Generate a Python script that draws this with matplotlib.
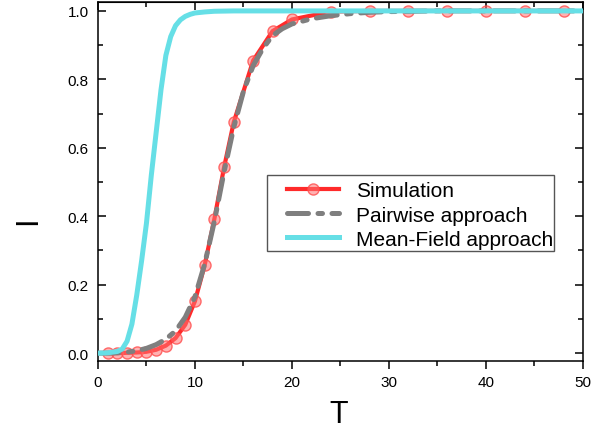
#!/usr/bin/env python
# I vs T: simulation, pairwise and mean-field curves
import matplotlib
matplotlib.use('Agg')
import matplotlib.pyplot as plt
from matplotlib.patches import Rectangle
from matplotlib.ticker import MultipleLocator

plt.rcParams['font.family'] = ['Liberation Sans', 'DejaVu Sans']

# simulation (markers)
t_sim = [1, 2, 3, 4, 5, 6, 7, 8, 9, 10, 11, 12, 13, 14, 16, 18, 20, 24, 28, 32, 36, 40, 44, 48]
i_sim = [0.0, 0.0, 0.001, 0.002, 0.004, 0.010, 0.022, 0.044, 0.083, 0.152, 0.257, 0.392,
         0.543, 0.675, 0.855, 0.941, 0.975, 0.998, 1.0, 1.0, 1.0, 1.0, 1.0, 1.0]

# pairwise approach
t_pair = [0, 1, 2, 3, 4, 5, 6, 7, 8, 9, 10, 11, 12, 13, 14, 15, 16, 17, 18, 19, 20,
          22, 24, 26, 28, 30, 35, 40, 45, 50]
i_pair = [0.0, 0.0, 0.001, 0.003, 0.007, 0.014, 0.025, 0.041, 0.065, 0.105, 0.165, 0.26,
          0.385, 0.53, 0.66, 0.765, 0.84, 0.89, 0.928, 0.948, 0.962, 0.977, 0.986, 0.992,
          0.996, 0.998, 1.0, 1.0, 1.0, 1.0]

# mean-field approach
t_mf = [0, 1, 2, 2.5, 3, 3.5, 4, 4.5, 5, 5.5, 6, 6.5, 7, 7.5, 8, 8.5, 9, 9.5, 10, 11, 12, 14,
        20, 30, 40, 50]
i_mf = [0.0, 0.001, 0.005, 0.012, 0.035, 0.085, 0.17, 0.27, 0.38, 0.52, 0.645, 0.77, 0.87,
        0.925, 0.957, 0.974, 0.984, 0.99, 0.994, 0.997, 0.999, 1.0, 1.0, 1.0, 1.0, 1.0]

fig = plt.figure(figsize=(6.01, 4.31), dpi=100)
ax = fig.add_axes([0.163, 0.160, 0.807, 0.833])

l1, = ax.plot(t_sim, i_sim, color='#ff2a2a', lw=3, marker='o', ms=8,
              mfc=(1, 0.45, 0.45, 0.55), mec=(1, 0.3, 0.3, 0.8), mew=1, zorder=2)
l2, = ax.plot(t_pair, i_pair, color='#7f7f7f', lw=3.6, dashes=(4.2, 1.9, 0.9, 1.9),
              dash_capstyle='round', zorder=3)
l3, = ax.plot(t_mf, i_mf, color='#66dfe6', lw=3.6, zorder=4)

ax.set_xlim(0, 50)
ax.set_ylim(-0.023, 1.026)
ax.xaxis.set_major_locator(MultipleLocator(10))
ax.xaxis.set_minor_locator(MultipleLocator(5))
ax.yaxis.set_major_locator(MultipleLocator(0.2))
ax.yaxis.set_minor_locator(MultipleLocator(0.1))
ax.yaxis.set_major_formatter(plt.FuncFormatter(lambda v, p: '%.1f' % v))

for s in ax.spines.values():
    s.set_linewidth(1.1)
ax.tick_params(axis='x', which='both', direction='out', labelsize=11, pad=4, width=1.1)
ax.tick_params(axis='y', which='both', direction='in', right=True, labelsize=11, pad=6.5, width=1.1)
ax.tick_params(which='major', length=6)
ax.tick_params(which='minor', length=3.5)

# top axis ticks point inward
top = ax.secondary_xaxis('top')
top.xaxis.set_major_locator(MultipleLocator(10))
top.xaxis.set_minor_locator(MultipleLocator(5))
top.tick_params(which='both', direction='in', labeltop=False, width=1.1)
top.tick_params(which='major', length=6)
top.tick_params(which='minor', length=3.5)

ax.set_xlabel('T', fontsize=22)
ax.xaxis.set_label_coords(0.497, -0.107)
ax.xaxis.label.set_va('top')
fig.text(0.046, 0.488, 'I', fontsize=22, rotation=90, ha='center', va='center')

# legend
ax.add_patch(Rectangle((0.348, 0.306), 0.592, 0.212, transform=ax.transAxes,
                       fill=False, ec='#555555', lw=1, zorder=5))
ax.legend([l1, l2, l3], ['Simulation', 'Pairwise approach', 'Mean-Field approach'],
          loc='upper left', bbox_to_anchor=(0.356, 0.547), frameon=False, fontsize=15,
          handlelength=2.5, handletextpad=0.8, labelspacing=0.25, borderpad=0.3)

plt.savefig('out.png', dpi=100)
